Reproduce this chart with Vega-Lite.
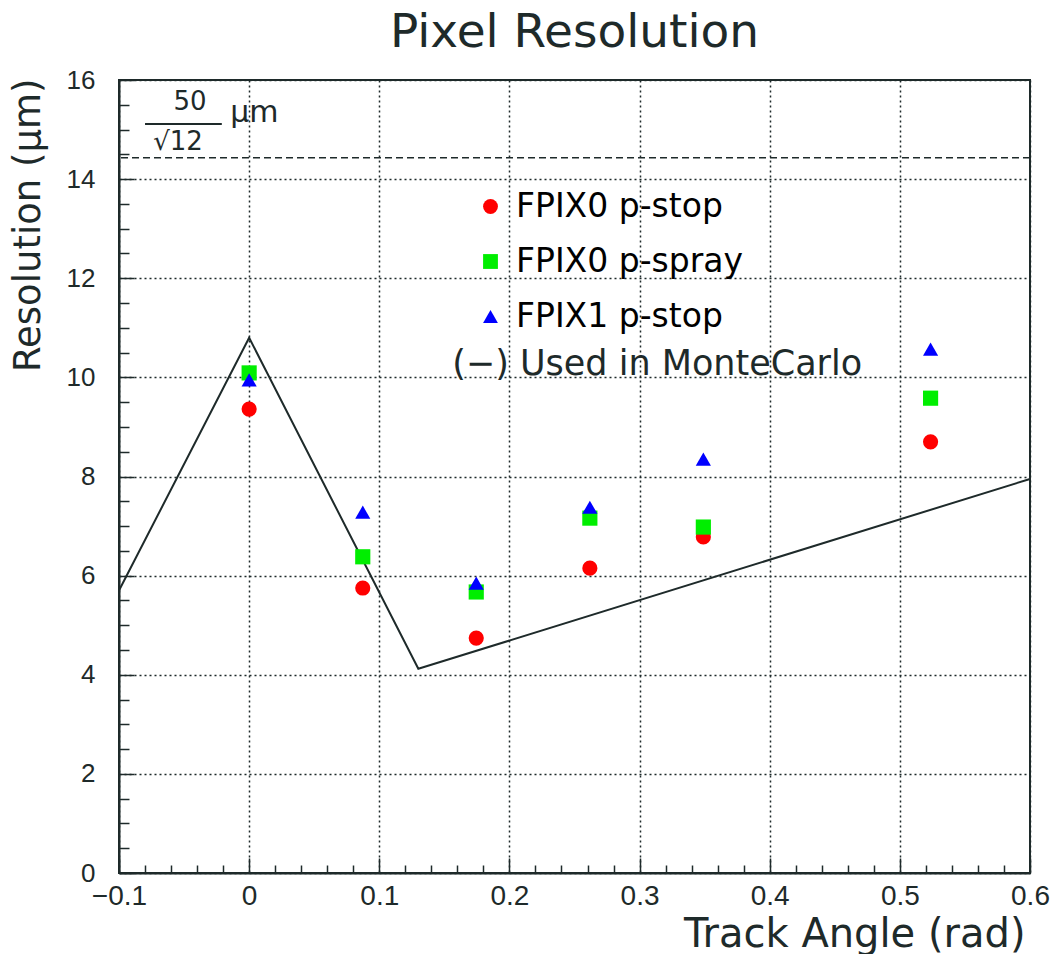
{
  "$schema": "https://vega.github.io/schema/vega-lite/v6.json",
  "autosize": {"type": "none"},
  "padding": {"left": 119, "top": 80, "right": 29, "bottom": 81},
  "width": 911,
  "height": 793,
  "background": "white",
  "data": {"values": [{}]},
  "config": {
    "font": "DejaVu Sans",
    "view": {"stroke": "#1e2a2a", "strokeWidth": 2},
    "axis": {"labelColor": "#1e2a2a", "titleColor": "#1e2a2a", "tickColor": "#1e2a2a", "domainColor": "#1e2a2a", "labelFont": "Liberation Sans", "titleFont": "DejaVu Sans", "titleFontWeight": "normal"},
    "legend": {"labelFont": "DejaVu Sans"}
  },
  "title": {"text": "Pixel Resolution", "fontSize": 47, "font": "DejaVu Sans", "fontWeight": "normal", "color": "#1e2a2a", "offset": 10, "anchor": "middle"},
  "layer": [
    {
      "data": {"values": [
        {"angle": -0.1, "res": 5.7},
        {"angle": 0.0, "res": 10.8},
        {"angle": 0.13, "res": 4.12},
        {"angle": 0.6, "res": 7.95}
      ]},
      "mark": {"type": "line", "color": "#1e2a2a", "strokeWidth": 2},
      "encoding": {
        "x": {"field": "angle", "type": "quantitative", "scale": {"domain": [-0.1, 0.6], "nice": false, "zero": false}},
        "y": {"field": "res", "type": "quantitative", "scale": {"domain": [0, 16], "nice": false}}
      }
    },
    {
      "mark": {"type": "rule", "color": "#1e2a2a", "strokeDash": [7, 4], "strokeWidth": 1.5},
      "encoding": {"y": {"datum": 14.43}}
    },
    {
      "data": {"values": [
        {"series": "FPIX0 p-stop", "angle": 0.0, "res": 9.36},
        {"series": "FPIX0 p-stop", "angle": 0.0873, "res": 5.75},
        {"series": "FPIX0 p-stop", "angle": 0.1745, "res": 4.74},
        {"series": "FPIX0 p-stop", "angle": 0.2618, "res": 6.15},
        {"series": "FPIX0 p-stop", "angle": 0.349, "res": 6.78},
        {"series": "FPIX0 p-stop", "angle": 0.5236, "res": 8.7},
        {"series": "FPIX0 p-spray", "angle": 0.0, "res": 10.09},
        {"series": "FPIX0 p-spray", "angle": 0.0873, "res": 6.38},
        {"series": "FPIX0 p-spray", "angle": 0.1745, "res": 5.67},
        {"series": "FPIX0 p-spray", "angle": 0.2618, "res": 7.16},
        {"series": "FPIX0 p-spray", "angle": 0.349, "res": 6.98},
        {"series": "FPIX0 p-spray", "angle": 0.5236, "res": 9.58},
        {"series": "FPIX1 p-stop", "angle": 0.0, "res": 9.95},
        {"series": "FPIX1 p-stop", "angle": 0.0873, "res": 7.28},
        {"series": "FPIX1 p-stop", "angle": 0.1745, "res": 5.85},
        {"series": "FPIX1 p-stop", "angle": 0.2618, "res": 7.38},
        {"series": "FPIX1 p-stop", "angle": 0.349, "res": 8.35},
        {"series": "FPIX1 p-stop", "angle": 0.5236, "res": 10.57}
      ]},
      "mark": {"type": "point", "filled": true, "opacity": 1, "size": 230},
      "encoding": {
        "x": {"field": "angle", "type": "quantitative",
          "axis": {"orient": "bottom", "tickCount": 200,
            "values": [-0.1,-0.08,-0.06,-0.04,-0.02,0,0.02,0.04,0.06,0.08,0.1,0.12,0.14,0.16,0.18,0.2,0.22,0.24,0.26,0.28,0.3,0.32,0.34,0.36,0.38,0.4,0.42,0.44,0.46,0.48,0.5,0.52,0.54,0.56,0.58,0.6],
            "labelExpr": "indexof([-0.1,0,0.1,0.2,0.3,0.4,0.5,0.6], datum.value) >= 0 ? format(datum.value, '.1~f') : ''",
            "grid": true, "gridDash": [2, 3], "gridColor": "#1e2a2a", "gridWidth": 1.5,
            "gridOpacity": {"condition": {"test": "indexof([-0.1,0,0.1,0.2,0.3,0.4,0.5,0.6], datum.value) >= 0", "value": 1}, "value": 0},
            "domainWidth": 2,
            "tickSize": {"condition": {"test": "indexof([-0.1,0,0.1,0.2,0.3,0.4,0.5,0.6], datum.value) >= 0", "value": -15}, "value": -8},
            "labelPadding": {"condition": {"test": "indexof([-0.1,0,0.1,0.2,0.3,0.4,0.5,0.6], datum.value) >= 0", "value": 24}, "value": 500},
            "tickWidth": 1.5, "labelFontSize": 28, "labelFlush": false, "labelBaseline": "top", "labelOverlap": false,
            "title": "Track Angle (rad)", "titleFontSize": 40, "titleX": 906, "titleY": 61, "titleAlign": "right", "titleBaseline": "middle", "titleAnchor": null}},
        "y": {"field": "res", "type": "quantitative",
          "axis": {"orient": "left", "tickCount": 200,
            "values": [0,0.5,1,1.5,2,2.5,3,3.5,4,4.5,5,5.5,6,6.5,7,7.5,8,8.5,9,9.5,10,10.5,11,11.5,12,12.5,13,13.5,14,14.5,15,15.5,16],
            "labelExpr": "datum.value % 2 == 0 ? format(datum.value, 'd') : ''",
            "grid": true, "gridDash": [2, 3], "gridColor": "#1e2a2a", "gridWidth": 1.5,
            "gridOpacity": {"condition": {"test": "datum.value % 2 == 0", "value": 1}, "value": 0},
            "domainWidth": 2,
            "tickSize": {"condition": {"test": "datum.value % 2 == 0", "value": -15}, "value": -10},
            "labelPadding": {"condition": {"test": "datum.value % 2 == 0", "value": 39}, "value": 500},
            "tickWidth": 1.5, "labelFontSize": 26, "labelFlush": false, "labelOverlap": false,
            "title": "Resolution (μm)", "titleFontSize": 37, "titleX": -91, "titleY": -2, "titleAngle": -90, "titleAlign": "right", "titleBaseline": "middle", "titleAnchor": null}},
        "color": {"field": "series", "type": "nominal",
          "scale": {"domain": ["FPIX0 p-stop", "FPIX0 p-spray", "FPIX1 p-stop"], "range": ["#ff0000", "#00ee00", "#0000ff"]},
          "legend": {"orient": "none", "legendX": 355, "legendY": 110, "title": null, "symbolSize": 220, "labelFontSize": 33, "labelLimit": 600, "rowPadding": 21, "labelOffset": 9, "symbolStrokeWidth": 0,
            "encode": {"labels": {"update": {"fill": {"scale": "color", "field": "value"}, "opacity": {"value": 0.72}}}}}},
        "shape": {"field": "series", "type": "nominal",
          "scale": {"domain": ["FPIX0 p-stop", "FPIX0 p-spray", "FPIX1 p-stop"], "range": ["circle", "square", "triangle-up"]}}
      }
    },
    {
      "mark": {"type": "text", "text": "(−) Used in MonteCarlo", "font": "DejaVu Sans", "fontSize": 35, "align": "left", "baseline": "middle", "color": "#1e2a2a"},
      "encoding": {"x": {"datum": 0.156}, "y": {"datum": 10.27}}
    },
    {
      "mark": {"type": "text", "text": "50", "font": "DejaVu Sans", "fontSize": 26, "align": "center", "baseline": "middle", "color": "#1e2a2a"},
      "encoding": {"x": {"datum": -0.0454}, "y": {"datum": 15.56}}
    },
    {
      "mark": {"type": "rule", "color": "#1e2a2a", "strokeWidth": 2},
      "encoding": {"x": {"datum": -0.08}, "x2": {"datum": -0.021}, "y": {"datum": 15.11}}
    },
    {
      "mark": {"type": "text", "text": "√12", "font": "DejaVu Sans", "fontSize": 26, "align": "center", "baseline": "middle", "color": "#1e2a2a"},
      "encoding": {"x": {"datum": -0.0546}, "y": {"datum": 14.75}}
    },
    {
      "mark": {"type": "text", "text": "μm", "font": "DejaVu Sans", "fontSize": 30, "align": "left", "baseline": "middle", "color": "#1e2a2a"},
      "encoding": {"x": {"datum": -0.0146}, "y": {"datum": 15.33}}
    }
  ]
}
